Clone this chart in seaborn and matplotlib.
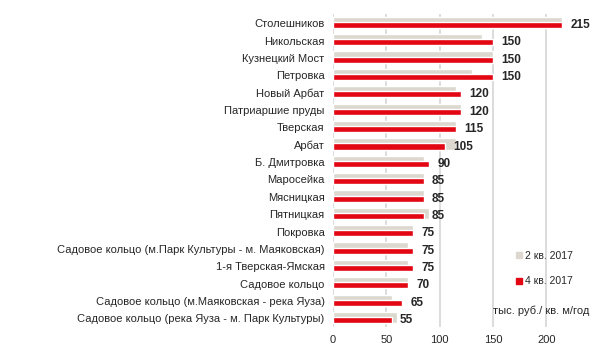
import matplotlib
matplotlib.use("Agg")
import matplotlib.pyplot as plt
import seaborn as sns
import pandas as pd
from matplotlib.lines import Line2D

# Rental rates, thousand RUB per sq.m per year
streets = [
    "Столешников", "Никольская", "Кузнецкий Мост", "Петровка", "Новый Арбат",
    "Патриаршие пруды", "Тверская", "Арбат", "Б. Дмитровка", "Маросейка",
    "Мясницкая", "Пятницкая", "Покровка",
    "Садовое кольцо (м.Парк Культуры - м. Маяковская)",
    "1-я Тверская-Ямская", "Садовое кольцо",
    "Садовое кольцо (м.Маяковская - река Яуза)",
    "Садовое кольцо (река Яуза - м. Парк Культуры)",
]
q2_2017 = [215, 140, 150, 130, 115, 120, 115, 115, 85, 85, 85, 90, 75, 70, 70, 70, 55, 60]
q4_2017 = [215, 150, 150, 150, 120, 120, 115, 105, 90, 85, 85, 85, 75, 75, 75, 70, 65, 55]
x_ticks = [0, 50, 100, 150, 200]
series_names = ["2 кв. 2017", "4 кв. 2017"]
unit_label = "тыс. руб./ кв. м/год"

GRAY = "#dcd8cf"
RED = "#e30613"
TEXT = "#262626"

sns.set_style("white")
plt.rcParams['font.family'] = ['Liberation Sans', 'DejaVu Sans']

df = pd.DataFrame({"street": streets, "q2": q2_2017, "q4": q4_2017})

fig = plt.figure(figsize=(5.95, 3.56), dpi=100)
ax = fig.add_axes([0.5597, 0.0815, 0.4304, 0.8778])

n = len(streets)
sns.barplot(data=df, x="q2", y="street", color=GRAY, saturation=1, width=0.65, ax=ax)
sns.barplot(data=df, x="q4", y="street", color=RED, saturation=1, width=0.35, ax=ax)

# gray bar sits a bit higher, red bar overlays its lower part
for i, p in enumerate(ax.patches):
    if i < n:
        p.set_y(p.get_y() - 0.045)
        p.set_zorder(2)
    else:
        p.set_y(p.get_y() + 0.105)
        p.set_zorder(3)

# value labels on red bars
for i, v in enumerate(q4_2017):
    ax.annotate(str(v), xy=(v, i + 0.105), xytext=(6, 0), textcoords="offset points",
                ha="left", va="center", fontsize=8.5, fontweight="bold", color=TEXT)

ax.set_xlim(0, 240)
ax.set_ylim(n - 0.5, -0.5)
ax.set_xticks(x_ticks)
ax.set_xticklabels([str(t) for t in x_ticks])
ax.set_xlabel("")
ax.set_ylabel("")
ax.tick_params(axis="x", length=0, labelsize=8, colors=TEXT, pad=6)
ax.tick_params(axis="y", length=0, labelsize=8, colors=TEXT, pad=6)
ax.xaxis.grid(True, color="#d9d9d9", lw=1.3)
ax.set_axisbelow(True)
for s in ax.spines.values():
    s.set_visible(False)

handles = [Line2D([], [], marker="s", ls="", color=GRAY, markersize=5),
           Line2D([], [], marker="s", ls="", color=RED, markersize=5)]
fig.legend(handles, series_names, loc="upper left", bbox_to_anchor=(0.848, 0.322),
           frameon=False, fontsize=7.5, labelspacing=1.5, handletextpad=0.1,
           handlelength=1.0, labelcolor=TEXT)

fig.text(0.99, 1 - 311 / 356, unit_label, ha="right", va="center", fontsize=8, color=TEXT)

fig.savefig("out.png", dpi=100)
